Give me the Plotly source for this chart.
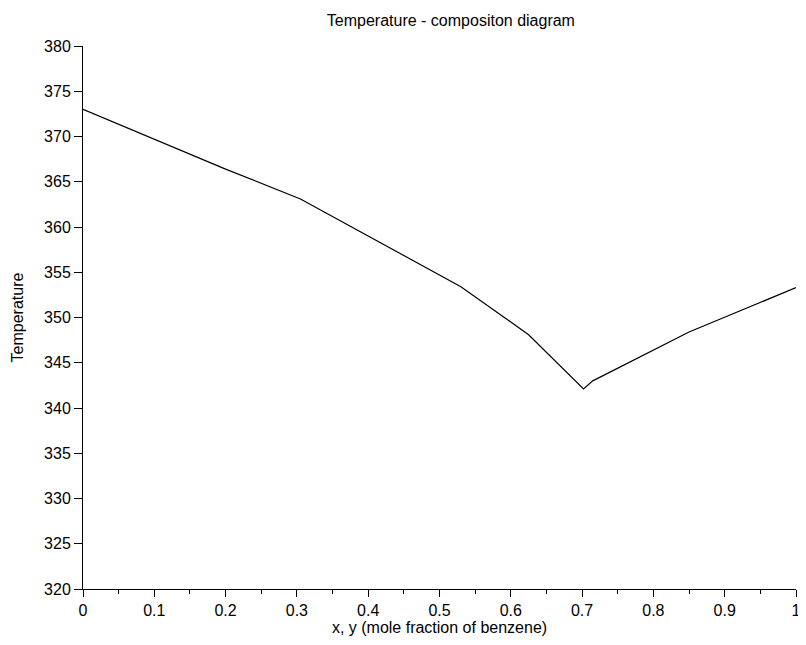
import plotly.graph_objects as go

# mole fraction of benzene vs temperature (K)
x_frac = [0.0, 0.1, 0.2, 0.305, 0.4, 0.53, 0.625, 0.702, 0.715, 0.85, 1.0]
temp_k = [373.0, 369.7, 366.4, 363.1, 359.0, 353.4, 348.1, 342.1, 343.0, 348.4, 353.3]

x_ticks = [0, 0.1, 0.2, 0.3, 0.4, 0.5, 0.6, 0.7, 0.8, 0.9, 1]
x_labels = ["0", "0.1", "0.2", "0.3", "0.4", "0.5", "0.6", "0.7", "0.8", "0.9", "1"]
y_ticks = list(range(320, 381, 5))

trace = go.Scatter(x=x_frac, y=temp_k, mode="lines",
                   line=dict(color="black", width=1.2), showlegend=False)

# page body has an 8px margin, so the figure is a bit smaller than the window
layout = go.Layout(
    width=798, height=637,
    paper_bgcolor="white", plot_bgcolor="white",
    margin=dict(l=75, r=5, t=38, b=56),
    font=dict(family="Liberation Sans, Arial, sans-serif", color="black"),
    title=dict(text="Temperature - compositon diagram", x=0.555, xanchor="center",
               y=0.98, yanchor="middle", font=dict(size=16)),
    xaxis=dict(range=[0, 1], tickvals=x_ticks, ticktext=x_labels,
               showgrid=False, zeroline=False, showline=True, linecolor="black",
               linewidth=1, ticks="outside", ticklen=7, tickcolor="black",
               tickfont=dict(size=16), ticklabeloverflow="allow",
               minor=dict(dtick=0.05, ticks="outside", ticklen=4, tickcolor="black"),
               title=dict(text="x, y (mole fraction of benzene)", font=dict(size=16),
                          standoff=2)),
    yaxis=dict(range=[320, 380], tickvals=y_ticks,
               showgrid=False, zeroline=False, showline=True, linecolor="black",
               linewidth=1, ticks="outside", ticklen=8, tickcolor="black",
               tickfont=dict(size=16),
               title=dict(text="Temperature", font=dict(size=16), standoff=16)),
)

fig = go.Figure(data=[trace], layout=layout)
fig.write_html("out.html")
